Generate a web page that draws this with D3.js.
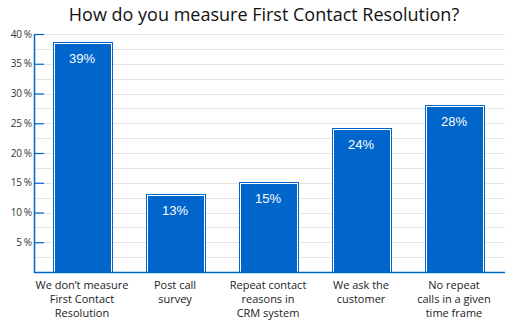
<!DOCTYPE html>
<html>
<head>
<meta charset="utf-8">
<script src="https://cdn.jsdelivr.net/npm/d3@7"></script>
<style>
  body { margin: 0; background: #fff; }
  svg { display: block; }
</style>
</head>
<body>
<div id="chart"></div>
<script>
// data
const categories = [
  ["We don\u2019t measure", "First Contact", "Resolution"],
  ["Post call", "survey"],
  ["Repeat contact", "reasons in", "CRM system"],
  ["We ask the", "customer"],
  ["No repeat", "calls in a given", "time frame"]
];
const values = [38.7, 13.1, 15.1, 24.2, 28.1];
const valueLabels = ["39%", "13%", "15%", "24%", "28%"];
const majorTicks = [5, 10, 15, 20, 25, 30, 35, 40];
const gridTicks = d3.range(2.5, 40.01, 2.5);

const width = 510, height = 325;
const margin = {top: 34, right: 5, bottom: 53, left: 35};
const blue = "#0066cc";

const svg = d3.select("#chart").append("svg")
    .attr("width", width)
    .attr("height", height);

const x = d3.scaleBand()
    .domain(d3.range(categories.length))
    .range([33, 503])
    .paddingInner(0.366)
    .paddingOuter(0.21);

const y = d3.scaleLinear()
    .domain([0, 40])
    .range([height - margin.bottom, margin.top]);

// title
svg.append("text")
    .attr("x", 264)
    .attr("y", 21)
    .attr("text-anchor", "middle")
    .attr("font-family", "Open Sans, sans-serif")
    .attr("font-size", 18)
    .attr("fill", "#111")
    .text("How do you measure First Contact Resolution?");

// gridlines
svg.append("g")
    .selectAll("line")
    .data(gridTicks)
    .join("line")
    .attr("x1", margin.left)
    .attr("x2", width - margin.right)
    .attr("y1", d => Math.round(y(d)) + 0.5)
    .attr("y2", d => Math.round(y(d)) + 0.5)
    .attr("stroke", "#e3e3e3")
    .attr("stroke-width", 1);

// bars: blue outline, white gap, blue fill
const bar = svg.append("g")
    .selectAll("g")
    .data(values)
    .join("g");

bar.append("rect")
    .attr("x", (d, i) => Math.round(x(i)) + 0.5)
    .attr("y", d => Math.round(y(d)) + 0.5)
    .attr("width", Math.round(x.bandwidth()))
    .attr("height", d => y(0) - Math.round(y(d)))
    .attr("fill", "#fff")
    .attr("stroke", blue)
    .attr("stroke-width", 1);

bar.append("rect")
    .attr("x", (d, i) => Math.round(x(i)) + 2)
    .attr("y", d => Math.round(y(d)) + 2)
    .attr("width", Math.round(x.bandwidth()) - 3)
    .attr("height", d => y(0) - Math.round(y(d)) - 2)
    .attr("fill", blue);

bar.append("text")
    .attr("x", (d, i) => x(i) + x.bandwidth() / 2)
    .attr("y", d => y(d) + 21)
    .attr("text-anchor", "middle")
    .attr("font-family", "Liberation Sans, Arial, sans-serif")
    .attr("font-size", 13)
    .attr("fill", "#fff")
    .text((d, i) => valueLabels[i]);

// y axis
const yAxis = svg.append("g")
    .attr("transform", `translate(${margin.left},0)`)
    .call(d3.axisRight(y).tickValues(majorTicks).tickSize(9).tickFormat(d => d + "\u2009%"));
yAxis.select(".domain").remove();
yAxis.selectAll(".tick line").attr("stroke", blue).attr("stroke-width", 1.2);
yAxis.selectAll(".tick text")
    .attr("x", -3)
    .attr("text-anchor", "end")
    .attr("font-family", "Open Sans, sans-serif")
    .attr("font-size", 10)
    .attr("fill", "#333");

svg.append("line")
    .attr("x1", margin.left - 0.5).attr("x2", margin.left - 0.5)
    .attr("y1", y(40)).attr("y2", y(0) + 1)
    .attr("stroke", blue).attr("stroke-width", 1.5);

svg.append("line")
    .attr("x1", margin.left - 1).attr("x2", width - margin.right)
    .attr("y1", y(0) + 0.5).attr("y2", y(0) + 0.5)
    .attr("stroke", blue).attr("stroke-width", 1.5);

// category labels
const lab = svg.append("g")
    .selectAll("text")
    .data(categories)
    .join("text")
    .attr("text-anchor", "middle")
    .attr("font-family", "Open Sans, sans-serif")
    .attr("font-size", 11)
    .attr("fill", "#222");

lab.selectAll("tspan")
    .data((d, i) => d.map(t => ({t, i})))
    .join("tspan")
    .attr("x", d => x(d.i) + x.bandwidth() / 2)
    .attr("y", (d, j) => y(0) + 17 + j * 14)
    .text(d => d.t);
</script>
</body>
</html>
